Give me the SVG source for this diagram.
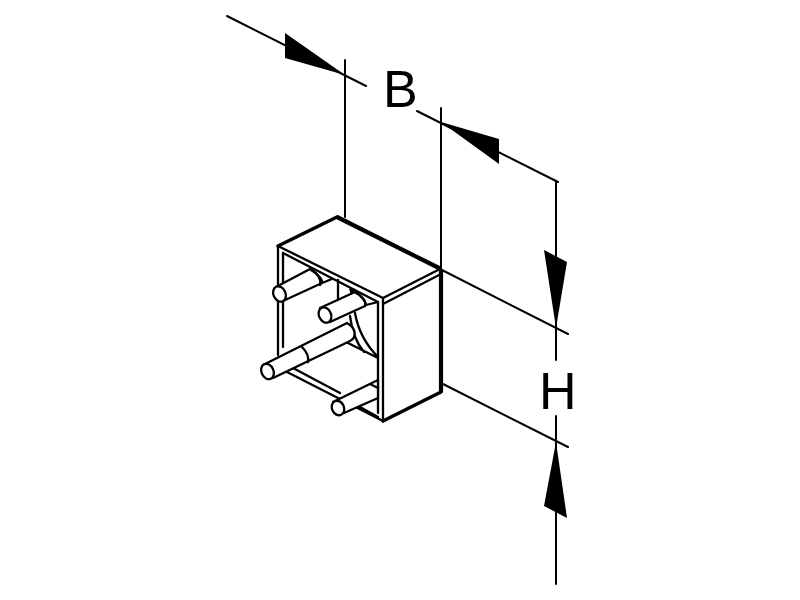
<svg xmlns="http://www.w3.org/2000/svg" width="800" height="600" viewBox="0 0 800 600">
<style>
.d{stroke:#000;stroke-width:2;fill:none;stroke-linecap:round}
.a{fill:#000;stroke:none}
.o{stroke:#000;stroke-width:2.3;fill:none;stroke-linecap:round;stroke-linejoin:round}
.t{stroke:#000;stroke-width:3.6;fill:none;stroke-linecap:round;stroke-linejoin:round}
.p{stroke:#000;stroke-width:2.3;fill:#fff;stroke-linejoin:round}
text{font-family:"Liberation Sans",Arial,sans-serif;font-size:52px;fill:#000}
</style>
<rect width="800" height="600" fill="#fff"/>
<g id="connectors">
<path class="d" d="M227 16L366 86M345 60V217M417 111L558 182M441 108V269"/>
<path class="d" d="M556 181V360M442 270L568 334M443 384L568 447M556 416V584"/>
<polygon class="a" points="345,75 285,33 285,58"/>
<polygon class="a" points="441,122 499,139 499,164"/>
<polygon class="a" points="556,328 544,250 567,262"/>
<polygon class="a" points="556,442 544,506 567,518"/>
</g>
<g id="label-b"><text x="383" y="107">B</text></g>
<g id="label-h"><text x="539" y="409">H</text></g>
<g id="box">
<path class="o" d="M278 247V355M283 253V347M278 246L383 298M283 253L378 302M378 302V413M383 298V421M287 372L383 421M293 368L340 393M360 407L378 417M383 304L441 274M338 280V300"/>
<path class="t" d="M278 246L337 217"/>
<path d="M337 217L441 269" stroke="#000" stroke-width="4.200" fill="none"/>
<path class="o" d="M383 298L440 269"/>
<path d="M441 269V392" stroke="#000" stroke-width="4.200" fill="none"/>
<path class="t" d="M441 392L383 421"/>
<path class="o" d="M348 343L378 358M355 313C358 330 366 345 378 357M350 316C352 332 358 345 364 352M362 306L378 302"/>
<path d="M349 289l5 -1l2 5l-5 2z" fill="#000"/>
</g>
<g id="peg-1">
<path class="p" d="M276 287L310 269C318 274 323 280 322 283L283 301Z"/>
<path class="o" d="M310 269C315 272 322 278 320 285M322 283L332 279"/>
<ellipse class="p" cx="279.500" cy="294" rx="6" ry="8" transform="rotate(-25 279.500 294)"/>
</g>
<g id="peg-2">
<path class="p" d="M320 308L355 292C362 296 367 302 365 306L330 322Z"/>
<path class="o" d="M355 292C361 295 367 302 365 306"/>
<ellipse class="p" cx="325" cy="315" rx="6" ry="8" transform="rotate(-25 325 315)"/>
</g>
<g id="peg-3">
<path class="p" d="M263 365L347 323C356 328 358 338 348 342L273 378Z"/>
<path class="o" d="M302 347C306 351 309 357 308 362"/>
<ellipse class="p" cx="267.500" cy="371.500" rx="6" ry="8" transform="rotate(-25 267.500 371.500)"/>
</g>
<g id="peg-4">
<path class="p" d="M333 402L378 380V398L344 413Z"/>
<path class="o" d="M370 384L378 388"/>
<ellipse class="p" cx="338" cy="408" rx="6" ry="7.500" transform="rotate(-25 338 408)"/>
</g>
</svg>
